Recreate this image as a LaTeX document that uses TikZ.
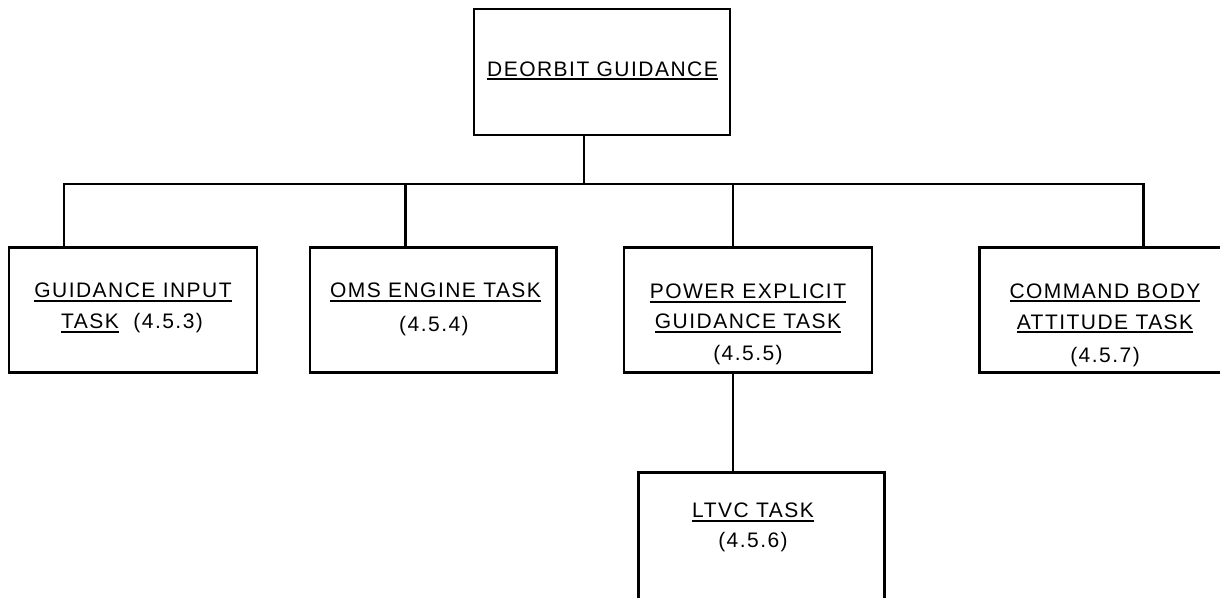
\documentclass[tikz,border=0pt]{standalone}
\usepackage{fontspec}
\setmainfont{Liberation Sans}[LetterSpace=7]
\newcommand\uln[1]{\setbox0=\hbox{#1}\rlap{\rule[-4.2pt]{\wd0}{2pt}}\box0}
\begin{document}
\begin{tikzpicture}[x=1pt,y=-1pt,
  box/.style={draw=black,line width=2.8pt,fill=white,inner sep=0pt,outer sep=0pt},
  lbl/.style={anchor=base,inner sep=0pt,font=\fontsize{21}{25}\selectfont},
  wire/.style={draw=black,line width=2.8pt,line join=miter}]
\clip (0,0) rectangle (1220,597);
\fill[white] (0,0) rectangle (1220,597);
% boxes
\node[box,minimum width=256pt,minimum height=126pt] (top) at (602,72) {};
\node[box,minimum width=248pt,minimum height=125pt] (b1) at (133,310.2) {};
\node[box,minimum width=246.7pt,minimum height=125pt] (b2) at (433.3,310.2) {};
\node[box,minimum width=248pt,minimum height=125pt] (b3) at (748,310.2) {};
\node[box,minimum width=248pt,minimum height=125pt] (b4) at (1103.3,310.2) {};
\node[box,minimum width=246pt,minimum height=128pt] (b5) at (761.3,536.7) {};
% junctions on the bus
\coordinate (j0) at (584,184);
\coordinate (j1) at (64,184);
\coordinate (j2) at (405.3,184);
\coordinate (j3) at (733,184);
\coordinate (j4) at (1143.3,184);
% connectors
\draw[wire] (j1 |- b1.north) -- (j1) -- (j4) -- (j4 |- b4.north);
\draw[wire] (j0 |- top.south) -- (j0);
\draw[wire] (j2) -- (j2 |- b2.north);
\draw[wire] (j3) -- (j3 |- b3.north);
\draw[wire] (j3 |- b3.south) -- (j3 |- b5.north);
% labels
\node[lbl] (t1) at (602.5,76) {\uln{DEORBIT GUIDANCE}};
\node[lbl] (g1a) at (133,297.7) {\uln{GUIDANCE INPUT}};
\node[lbl] (g1b) at (132,328.3) {\uln{TASK}\ \ (4.5.3)};
\node[lbl] (g2a) at (435.5,297.7) {\uln{OMS ENGINE TASK}};
\node[lbl] (g2b) at (434,331) {(4.5.4)};
\node[lbl] (g3a) at (748,298.3) {\uln{POWER EXPLICIT}};
\node[lbl] (g3b) at (748,328.3) {\uln{GUIDANCE TASK}};
\node[lbl] (g3c) at (748,360) {(4.5.5)};
\node[lbl] (g4a) at (1105,298) {\uln{COMMAND BODY}};
\node[lbl] (g4b) at (1105,329) {\uln{ATTITUDE TASK}};
\node[lbl] (g4c) at (1105,362.7) {(4.5.7)};
\node[lbl] (g5a) at (753,517.3) {\uln{LTVC TASK}};
\node[lbl] (g5b) at (753,547.3) {(4.5.6)};
\end{tikzpicture}
\end{document}
